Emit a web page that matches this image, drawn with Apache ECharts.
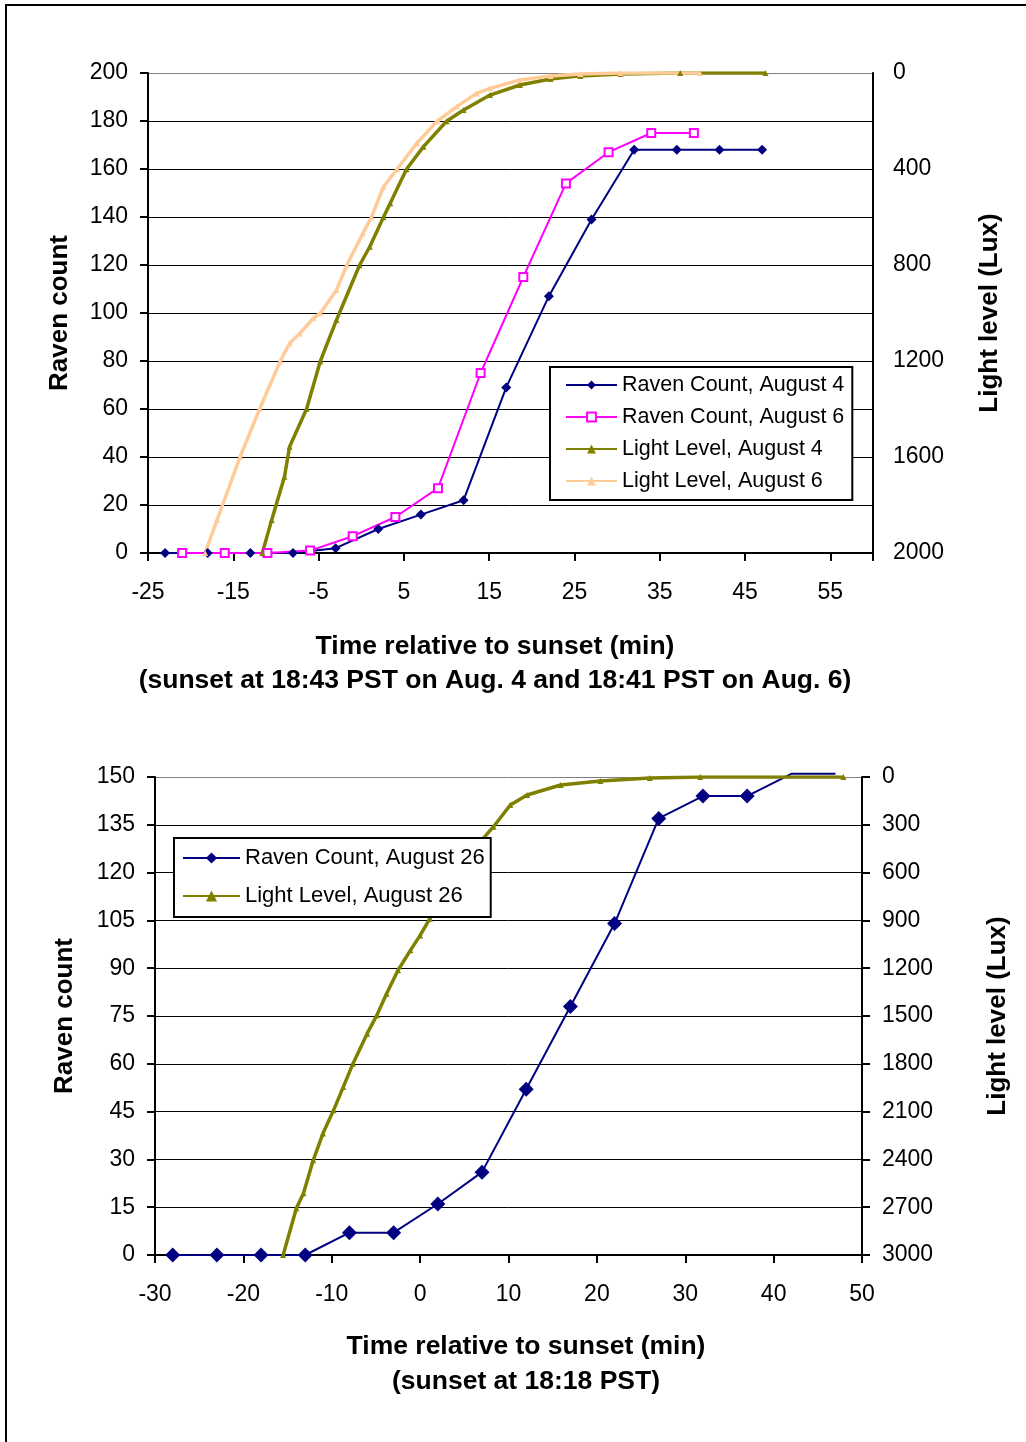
<!DOCTYPE html>
<html>
<head>
<meta charset="utf-8">
<title>Raven count and light level around sunset</title>
<script src="https://cdn.jsdelivr.net/npm/echarts@6/dist/echarts.min.js"></script>
<style>
  html, body { margin: 0; padding: 0; background: #fff; }
  #chart { width: 1026px; height: 1442px; }
</style>
</head>
<body>
<div id="chart"></div>
<script>
// top chart: August 4 and August 6
const aug4Times = [-23, -18, -13, -8, -3, 2, 7, 12, 17, 22, 27, 32, 37, 42, 47];
const aug4Ravens = [0, 0, 0, 0, 2, 10, 16, 22, 69, 107, 139, 168, 168, 168, 168];
const aug6Times = [-21, -16, -11, -6, -1, 4, 9, 14, 19, 24, 29, 34, 39];
const aug6Ravens = [0, 0, 0, 1, 7, 15, 27, 75, 115, 154, 167, 175, 175];

const aug4LightTimes = [-11.6, -10.5, -9.0, -8.4, -6.4, -4.8, -2.9, -0.2, 1.0, 2.6, 3.4, 5.3, 7.3, 10.0, 12.0, 15.1, 18.6, 22.2, 25.7, 30.4, 37.4, 47.4];
const aug4Light = [2000, 1862, 1682, 1557, 1399, 1201, 1029, 801, 724, 601, 543, 401, 307, 201, 154, 92, 50, 25, 12, 4, 0, 0];
const aug6LightTimes = [-18.3, -16.9, -14.2, -11.9, -9.5, -8.4, -7.2, -5.6, -4.8, -2.9, -1.7, 0.2, 1.2, 2.6, 4.2, 6.5, 8.9, 11.2, 13.5, 15.1, 18.6, 22.2, 25.7, 30.4, 39.7];
const aug6Light = [2000, 1862, 1599, 1399, 1201, 1126, 1085, 1022, 1001, 904, 801, 668, 601, 474, 401, 293, 201, 140, 85, 64, 29, 12, 4, 0, 0];

// bottom chart: August 26
const aug26Times = [-28, -23, -18, -13, -8, -3, 2, 7, 12, 17, 22, 27, 32, 37, 42, 47];
const aug26Ravens = [0, 0, 0, 0, 7, 7, 16, 26, 52, 78, 104, 137, 144, 144, 151, 151];
const aug26LightTimes = [-15.5, -14.0, -13.2, -12.1, -11.0, -9.8, -8.7, -7.6, -6.0, -4.9, -3.8, -2.5, -1.1, 0.0, 1.1, 3.0, 5.0, 7.0, 8.3, 10.2, 12.1, 15.9, 20.4, 26.0, 31.7, 47.9];
const aug26Light = [3000, 2707, 2613, 2406, 2238, 2092, 1946, 1799, 1611, 1496, 1360, 1213, 1088, 994, 889, 730, 560, 395, 312, 176, 113, 50, 25, 6, 0, 0];

// top x axis is labelled from -25 in steps of 10
const topXLabels = ['-25', '-15', '-5', '5', '15', '25', '35', '45', '55'];

const FONT = "'Liberation Sans', Arial, sans-serif";
const NAVY = '#000080', MAGENTA = '#FF00FF', OLIVE = '#808000', PEACH = '#FFCC99';

const pairs = (xs, ys) => xs.map((x, i) => [x, ys[i]]);

// gridlines are black, the top one is grey
function gridColors(n) {
  const c = Array(n).fill('#000');
  c[n - 1] = '#808080';
  return c;
}

const axisLine = { show: true, onZero: false, lineStyle: { color: '#000', width: 2 } };
const tickOut = { show: true, inside: false, length: 8, lineStyle: { color: '#000', width: 2 } };
const tickLabel = { color: '#000', fontSize: 23, fontFamily: FONT };
const titleStyle = { color: '#000', fontSize: 26, fontWeight: 'bold', fontFamily: FONT };

function leftAxis(grid, max, interval, gap) {
  return {
    gridIndex: grid, type: 'value', position: 'left', min: 0, max: max, interval: interval,
    name: 'Raven count', nameLocation: 'middle', nameGap: gap, nameRotate: 90, nameTextStyle: titleStyle,
    axisLine: axisLine, axisTick: tickOut,
    axisLabel: Object.assign({ margin: 20, formatter: v => String(v) }, tickLabel),
    splitLine: { show: true, lineStyle: { color: gridColors(11), width: 1 } }
  };
}
function rightAxis(grid, max, interval, gap, ticks) {
  return {
    gridIndex: grid, type: 'value', position: 'right', inverse: true, min: 0, max: max, interval: interval,
    name: 'Light level (Lux)', nameLocation: 'middle', nameGap: gap, nameRotate: 90, nameTextStyle: titleStyle,
    axisLine: axisLine, axisTick: ticks ? tickOut : { show: false },
    axisLabel: Object.assign({ margin: 20, formatter: v => String(v) }, tickLabel),
    splitLine: { show: false }
  };
}

const chart = echarts.init(document.getElementById('chart'), null, { renderer: 'canvas' });

chart.setOption({
  animation: false,
  backgroundColor: '#fff',
  textStyle: { fontFamily: FONT },
  grid: [
    { left: 148, top: 73, width: 725, height: 480 },
    { left: 155, top: 777, width: 707, height: 478 }
  ],
  xAxis: [
    // data axis for the top chart (hidden)
    { gridIndex: 0, type: 'value', position: 'bottom', min: -25, max: 60, show: false, axisLine: { onZero: false } },
    // visible label axis for the top chart
    {
      gridIndex: 0, type: 'value', position: 'bottom', min: 0, max: 85, interval: 10,
      axisLine: axisLine, axisTick: tickOut, splitLine: { show: false },
      axisLabel: Object.assign({ margin: 28, formatter: (v, i) => topXLabels[i] || '' }, tickLabel)
    },
    {
      gridIndex: 1, type: 'value', position: 'bottom', min: -30, max: 50, interval: 10,
      axisLine: axisLine, axisTick: tickOut, splitLine: { show: false },
      axisLabel: Object.assign({ margin: 28 }, tickLabel)
    }
  ],
  yAxis: [
    leftAxis(0, 200, 20, 75),
    rightAxis(0, 2000, 400, 104, false),
    leftAxis(1, 150, 15, 77),
    rightAxis(1, 3000, 300, 123, true)
  ],
  legend: [
    {
      data: ['Raven Count, August 4', 'Raven Count, August 6', 'Light Level, August 4', 'Light Level, August 6'],
      orient: 'vertical', left: 550, top: 367, selectedMode: false,
      padding: [7, 8, 8, 15], itemGap: 10, itemWidth: 51, itemHeight: 11,
      borderColor: '#000', borderWidth: 2, backgroundColor: '#fff', borderRadius: 0,
      textStyle: { color: '#000', fontSize: 21.5, fontFamily: FONT }
    },
    {
      data: ['Raven Count, August 26', 'Light Level, August 26'],
      orient: 'vertical', left: 174, top: 838, selectedMode: false,
      padding: [9, 6, 10, 8], itemGap: 16, itemWidth: 57, itemHeight: 14,
      borderColor: '#000', borderWidth: 2, backgroundColor: '#fff', borderRadius: 0,
      textStyle: { color: '#000', fontSize: 22, fontFamily: FONT }
    }
  ],
  series: [
    {
      name: 'Raven Count, August 4', type: 'line', xAxisIndex: 0, yAxisIndex: 0,
      data: pairs(aug4Times, aug4Ravens),
      symbol: 'diamond', symbolSize: 10,
      itemStyle: { color: NAVY }, lineStyle: { color: NAVY, width: 2 }
    },
    {
      name: 'Raven Count, August 6', type: 'line', xAxisIndex: 0, yAxisIndex: 0,
      data: pairs(aug6Times, aug6Ravens),
      symbol: 'emptyRect', symbolSize: 8,
      itemStyle: { color: MAGENTA, borderWidth: 1.5 }, lineStyle: { color: MAGENTA, width: 2 }
    },
    {
      name: 'Light Level, August 4', type: 'line', xAxisIndex: 0, yAxisIndex: 1,
      data: pairs(aug4LightTimes, aug4Light),
      symbol: 'triangle', symbolSize: 6,
      itemStyle: { color: OLIVE }, lineStyle: { color: OLIVE, width: 3.5 }
    },
    {
      name: 'Light Level, August 6', type: 'line', xAxisIndex: 0, yAxisIndex: 1,
      data: pairs(aug6LightTimes, aug6Light),
      symbol: 'triangle', symbolSize: 6,
      itemStyle: { color: PEACH }, lineStyle: { color: PEACH, width: 3.5 }
    },
    {
      name: 'Raven Count, August 26', type: 'line', xAxisIndex: 2, yAxisIndex: 2,
      clip: false,
      // points above the axis max get no marker, like the original
      data: pairs(aug26Times, aug26Ravens).map(p => p[1] > 150 ? { value: p, symbol: 'none' } : p),
      symbol: 'diamond', symbolSize: 15,
      itemStyle: { color: NAVY }, lineStyle: { color: NAVY, width: 2 }
    },
    {
      name: 'Light Level, August 26', type: 'line', xAxisIndex: 2, yAxisIndex: 3,
      data: pairs(aug26LightTimes, aug26Light),
      symbol: 'triangle', symbolSize: 6,
      itemStyle: { color: OLIVE }, lineStyle: { color: OLIVE, width: 3.5 }
    }
  ],
  graphic: [
    {
      type: 'rect', silent: true, z: 100,
      shape: { x: 6, y: 5, width: 1100, height: 1500 },
      style: { fill: 'none', stroke: '#000', lineWidth: 2 }
    },
    {
      type: 'text', x: 495, y: 647,
      style: { text: 'Time relative to sunset (min)', font: 'bold 26.5px ' + FONT, fill: '#000', align: 'center', verticalAlign: 'middle' }
    },
    {
      type: 'text', x: 495, y: 681,
      style: { text: '(sunset at 18:43 PST on Aug. 4 and 18:41 PST on Aug. 6)', font: 'bold 26.5px ' + FONT, fill: '#000', align: 'center', verticalAlign: 'middle' }
    },
    {
      type: 'text', x: 526, y: 1347,
      style: { text: 'Time relative to sunset (min)', font: 'bold 26.5px ' + FONT, fill: '#000', align: 'center', verticalAlign: 'middle' }
    },
    {
      type: 'text', x: 526, y: 1382,
      style: { text: '(sunset at 18:18 PST)', font: 'bold 26.5px ' + FONT, fill: '#000', align: 'center', verticalAlign: 'middle' }
    }
  ]
});
</script>
</body>
</html>
